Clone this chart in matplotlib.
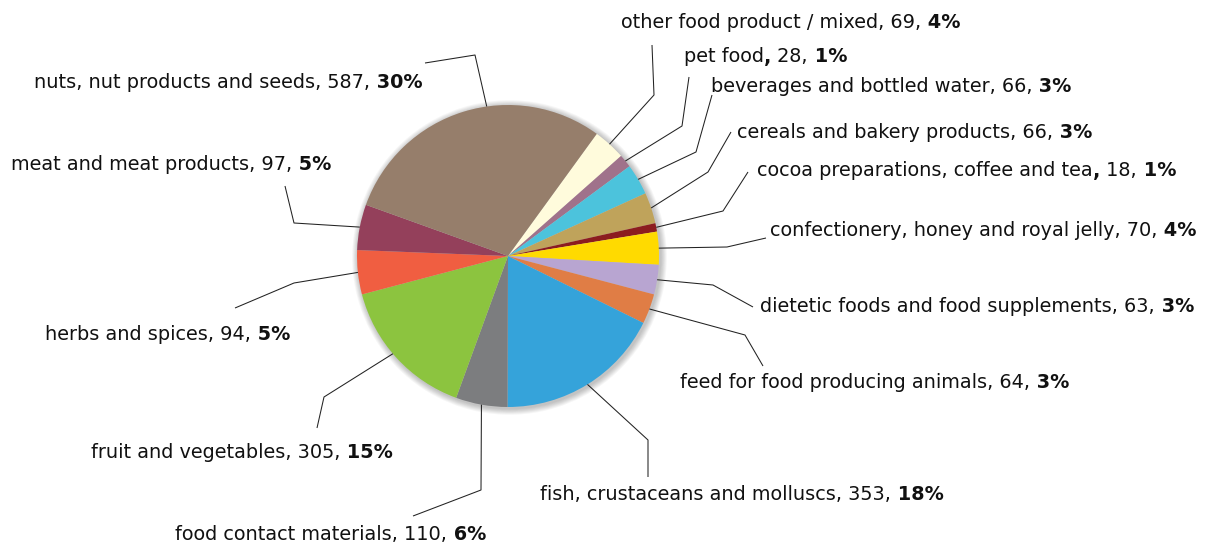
import matplotlib
matplotlib.use("Agg")
import matplotlib.pyplot as plt
import numpy as np
from matplotlib.patches import Circle

W, H = 1206, 545

categories = [
    "other food product / mixed", "pet food", "beverages and bottled water",
    "cereals and bakery products", "cocoa preparations, coffee and tea",
    "confectionery, honey and royal jelly", "dietetic foods and food supplements",
    "feed for food producing animals", "fish, crustaceans and molluscs",
    "food contact materials", "fruit and vegetables", "herbs and spices",
    "meat and meat products", "nuts, nut products and seeds",
]
counts = [69, 28, 66, 66, 18, 70, 63, 64, 353, 110, 305, 94, 97, 587]
percent_labels = ["4%", "1%", "3%", "3%", "1%", "4%", "3%", "3%", "18%", "6%", "15%", "5%", "5%", "30%"]
bold_comma = [False, True, False, False, True, False, False, False, False, False, False, False, False, False]

colors = ["#fffbdc", "#a0728b", "#4cc3dc", "#bfa35b", "#8c1c1f", "#ffda00", "#b8a5d1",
          "#e07d45", "#35a3da", "#7c7d7f", "#8cc43f", "#f05e41", "#94405b", "#967e6b"]

# layout in pixel coords (origin top-left): label anchor (left x, centre y),
# leader line end at label and elbow point
label_pos = [(621, 21), (684, 55), (711, 85), (737, 130), (757, 169), (770, 228),
             (760, 305), (680, 381), (540, 493), (175, 532), (91, 451), (45, 333),
             (11, 162), (34, 80)]
leader = [
    [(652, 45), (654, 95)], [(689, 77), (682, 126)], [(712, 95), (696, 152)],
    [(731, 132), (708, 172)], [(748, 172), (723, 211)], [(766, 238), (727, 247)],
    [(753, 307), (713, 285)], [(763, 366), (745, 335)], [(648, 477), (648, 440)],
    [(413, 516), (481, 490)], [(317, 428), (324, 397)], [(235, 308), (294, 283)],
    [(285, 186), (294, 223)], [(425, 63), (475, 55)],
]
# small angle nudges (deg) for where a leader meets the pie edge
leader_nudge = [0, 0, 0, 0, 0, 0, 0, 0, 0, 0, -2, 0, 0, -9]

CX, CY, R = 508, 256, 151
START = 54


def px(p):
    return p[0], H - p[1]


fig = plt.figure(figsize=(W / 100, H / 100), dpi=100)
ax = fig.add_axes([0, 0, 1, 1])

# soft shadow round the pie
for k in range(7, 0, -1):
    ax.add_patch(Circle((CX + 1.5, H - CY - 1.5), R + k * 0.9, color="#000000",
                        alpha=0.035, lw=0, zorder=1))

wedges, _ = ax.pie(counts, colors=colors, startangle=START, counterclock=False,
                   center=(CX, H - CY), radius=R, frame=True,
                   wedgeprops=dict(linewidth=0, zorder=2))
ax.set_xlim(0, W)
ax.set_ylim(0, H)
ax.set_aspect("equal")
ax.axis("off")

# leader lines from wedge edge
for w, pts, nudge in zip(wedges, leader, leader_nudge):
    mid = np.deg2rad((w.theta1 + w.theta2) / 2 + nudge)
    edge = (CX + R * np.cos(mid), H - CY + R * np.sin(mid))
    xs = [px(pts[0])[0], px(pts[1])[0], edge[0]]
    ys = [px(pts[0])[1], px(pts[1])[1], edge[1]]
    ax.plot(xs, ys, color="#222222", lw=0.75, zorder=3, solid_capstyle="butt")

fig.canvas.draw()
renderer = fig.canvas.get_renderer()
FS = 13.9

for name, n, pct, bc, pos in zip(categories, counts, percent_labels, bold_comma, label_pos):
    if bc:
        parts = [(name, "normal"), (",", "bold"), (f" {n},", "normal"), (" " + pct, "bold")]
    else:
        parts = [(f"{name}, {n},", "normal"), (" " + pct, "bold")]
    x, y = px(pos)
    for s, wt in parts:
        t = ax.text(x, y, s, fontsize=FS, fontweight=wt, ha="left", va="center_baseline",
                    color="#111111", family="DejaVu Sans", zorder=4)
        bb = t.get_window_extent(renderer)
        x += bb.width

fig.savefig("out.png", dpi=100, facecolor="white")
